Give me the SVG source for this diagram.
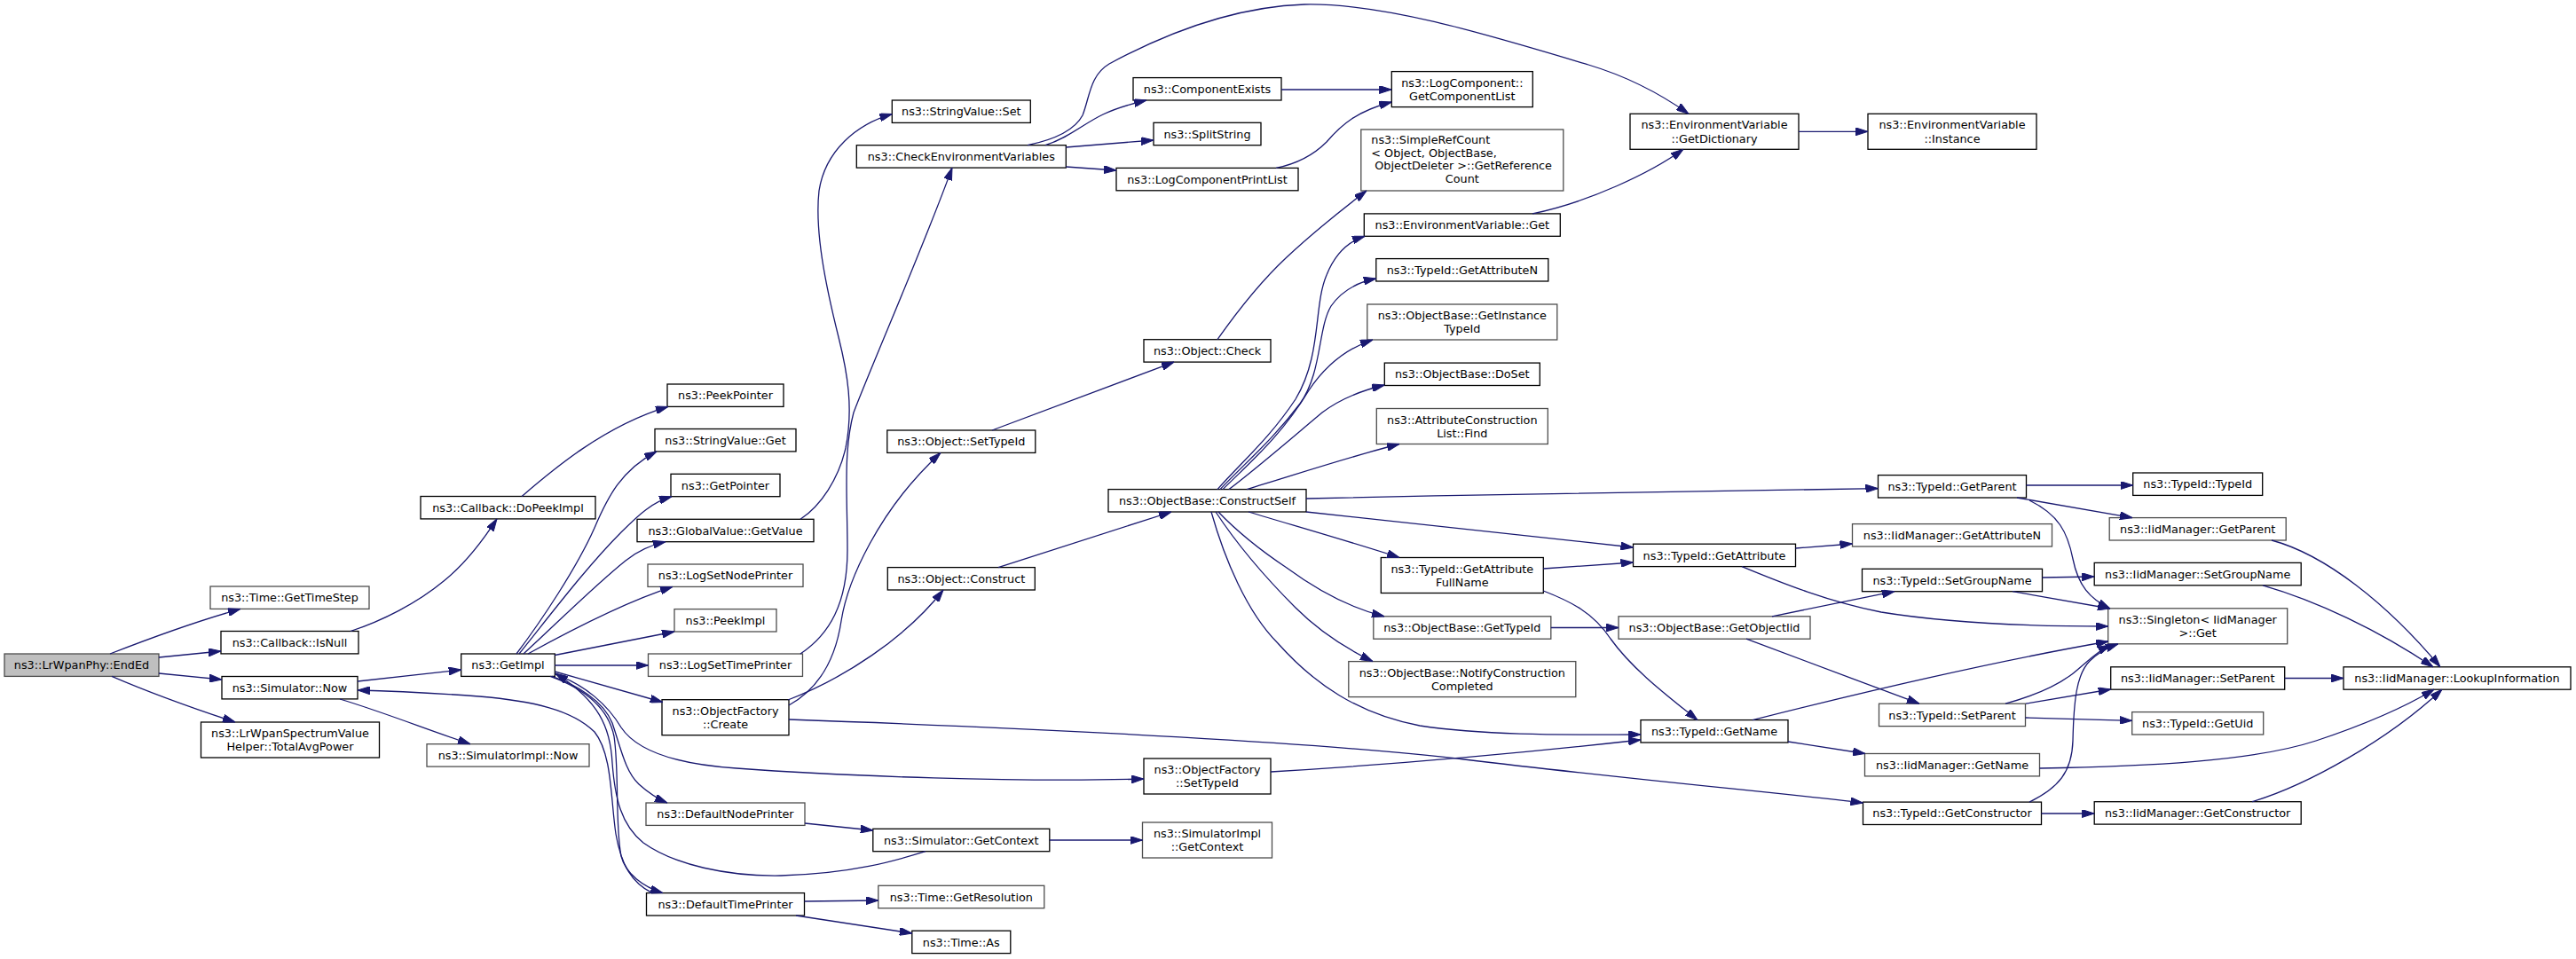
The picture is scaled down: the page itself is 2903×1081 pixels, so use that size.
<svg xmlns="http://www.w3.org/2000/svg" width="2903" height="1081" viewBox="0 0 2903 1081">
<defs>
<marker id="ah" viewBox="0 0 14 9" refX="14" refY="4.5" markerWidth="14" markerHeight="9" markerUnits="userSpaceOnUse" orient="auto"><path d="M0,0 L14,4.5 L0,9 z" fill="#191970" stroke="#191970" stroke-width="1"/></marker>
<style>
.e path{fill:none;stroke:#191970;stroke-width:1.3;marker-end:url(#ah)}
.n rect{fill:#fff;stroke:#000;stroke-width:1.3}
.n.g rect{stroke:#4d4d4d}
.n text{font-family:'DejaVu Sans',sans-serif;font-size:12.8px;fill:#000;text-anchor:middle}
.n.root rect{fill:#bfbfbf;stroke:#4d4d4d}
.n text.l{text-anchor:start}
</style>
</defs>
<rect width="2903" height="1081" fill="#fff"/>
<g id="nodes">
<g id="n_EndEd" class="n root"><rect x="5" y="737" width="174" height="25.4"/><text x="92" y="754.3">ns3::LrWpanPhy::EndEd</text></g>
<g id="n_GetTimeStep" class="n g"><rect x="237" y="661" width="179" height="25.4"/><text x="326.5" y="678.3">ns3::Time::GetTimeStep</text></g>
<g id="n_IsNull" class="n"><rect x="249" y="711.5" width="155" height="25.4"/><text x="326.5" y="728.8">ns3::Callback::IsNull</text></g>
<g id="n_SimNow" class="n"><rect x="250" y="762.5" width="153" height="25.4"/><text x="326.5" y="779.8">ns3::Simulator::Now</text></g>
<g id="n_TotalAvg" class="n"><rect x="226.5" y="814" width="201" height="40"/><text x="327" y="831">ns3::LrWpanSpectrumValue</text><text x="327" y="846.2">Helper::TotalAvgPower</text></g>
<g id="n_DoPeekImpl" class="n"><rect x="474" y="559.5" width="197" height="25.4"/><text x="572.5" y="576.8">ns3::Callback::DoPeekImpl</text></g>
<g id="n_GetImpl" class="n"><rect x="519.7" y="737" width="105.6" height="25.4"/><text x="572.5" y="754.3">ns3::GetImpl</text></g>
<g id="n_SimImplNow" class="n g"><rect x="481" y="838.7" width="183" height="25.4"/><text x="572.5" y="856">ns3::SimulatorImpl::Now</text></g>
<g id="n_PeekPointer" class="n"><rect x="752" y="433" width="131" height="25.4"/><text x="817.5" y="450.3">ns3::PeekPointer</text></g>
<g id="n_StrGet" class="n"><rect x="738" y="483.5" width="159" height="25.4"/><text x="817.5" y="500.8">ns3::StringValue::Get</text></g>
<g id="n_GetPointer" class="n"><rect x="756" y="534.3" width="123" height="25.4"/><text x="817.5" y="551.6">ns3::GetPointer</text></g>
<g id="n_GlobalGetValue" class="n"><rect x="718" y="585.3" width="199" height="25.4"/><text x="817.5" y="602.6">ns3::GlobalValue::GetValue</text></g>
<g id="n_LogSetNodePrinter" class="n g"><rect x="730" y="636" width="175" height="25.4"/><text x="817.5" y="653.3">ns3::LogSetNodePrinter</text></g>
<g id="n_PeekImpl" class="n g"><rect x="760" y="686.6" width="115" height="25.4"/><text x="817.5" y="703.9">ns3::PeekImpl</text></g>
<g id="n_LogSetTimePrinter" class="n g"><rect x="730.5" y="737" width="174" height="25.4"/><text x="817.5" y="754.3">ns3::LogSetTimePrinter</text></g>
<g id="n_OFCreate" class="n"><rect x="746" y="788.7" width="143" height="40"/><text x="817.5" y="805.7">ns3::ObjectFactory</text><text x="817.5" y="820.9">::Create</text></g>
<g id="n_DefaultNodePrinter" class="n g"><rect x="728" y="905" width="179" height="25.4"/><text x="817.5" y="922.3">ns3::DefaultNodePrinter</text></g>
<g id="n_DefaultTimePrinter" class="n"><rect x="728.5" y="1006.6" width="178" height="25.4"/><text x="817.5" y="1023.9">ns3::DefaultTimePrinter</text></g>
<g id="n_StrSet" class="n"><rect x="1005.3" y="113" width="156" height="25.4"/><text x="1083.3" y="130.3">ns3::StringValue::Set</text></g>
<g id="n_CheckEnv" class="n"><rect x="965.3" y="163.7" width="236" height="25.4"/><text x="1083.3" y="181">ns3::CheckEnvironmentVariables</text></g>
<g id="n_ObjSetTypeId" class="n"><rect x="999.8" y="485" width="167" height="25.4"/><text x="1083.3" y="502.3">ns3::Object::SetTypeId</text></g>
<g id="n_ObjConstruct" class="n"><rect x="1000.3" y="639.6" width="166" height="25.4"/><text x="1083.3" y="656.9">ns3::Object::Construct</text></g>
<g id="n_SimGetContext" class="n"><rect x="983.8" y="934.3" width="199" height="25.4"/><text x="1083.3" y="951.6">ns3::Simulator::GetContext</text></g>
<g id="n_TimeGetRes" class="n g"><rect x="989.8" y="998.3" width="187" height="25.4"/><text x="1083.3" y="1015.6">ns3::Time::GetResolution</text></g>
<g id="n_TimeAs" class="n"><rect x="1027.8" y="1049.2" width="111" height="25.4"/><text x="1083.3" y="1066.5">ns3::Time::As</text></g>
<g id="n_ComponentExists" class="n"><rect x="1277" y="87.6" width="167" height="25.4"/><text x="1360.5" y="104.9">ns3::ComponentExists</text></g>
<g id="n_SplitString" class="n"><rect x="1300" y="138.3" width="121" height="25.4"/><text x="1360.5" y="155.6">ns3::SplitString</text></g>
<g id="n_LogCompPrintList" class="n"><rect x="1258" y="189.4" width="205" height="25.4"/><text x="1360.5" y="206.7">ns3::LogComponentPrintList</text></g>
<g id="n_ObjCheck" class="n"><rect x="1289" y="382.7" width="143" height="25.4"/><text x="1360.5" y="400">ns3::Object::Check</text></g>
<g id="n_ConstructSelf" class="n"><rect x="1249" y="551.6" width="223" height="25.4"/><text x="1360.5" y="568.9">ns3::ObjectBase::ConstructSelf</text></g>
<g id="n_OFSetTypeId" class="n"><rect x="1289" y="855" width="143" height="40"/><text x="1360.5" y="872">ns3::ObjectFactory</text><text x="1360.5" y="887.2">::SetTypeId</text></g>
<g id="n_SimImplGetContext" class="n g"><rect x="1287.5" y="927" width="146" height="40"/><text x="1360.5" y="944">ns3::SimulatorImpl</text><text x="1360.5" y="959.2">::GetContext</text></g>
<g id="n_GetCompList" class="n"><rect x="1568.3" y="80.6" width="159" height="40"/><text x="1647.8" y="97.6">ns3::LogComponent::</text><text x="1647.8" y="112.8">GetComponentList</text></g>
<g id="n_SimpleRefCount" class="n g"><rect x="1533.8" y="146" width="228" height="69"/><text class="l" x="1545.3" y="162.1">ns3::SimpleRefCount</text><text class="l" x="1545.3" y="177">&lt; Object, ObjectBase,</text><text class="l" x="1549.3" y="191.3">ObjectDeleter &gt;::GetReference</text><text x="1647.8" y="206.2">Count</text></g>
<g id="n_EnvGet" class="n"><rect x="1537.3" y="240.9" width="221" height="25.4"/><text x="1647.8" y="258.2">ns3::EnvironmentVariable::Get</text></g>
<g id="n_GetAttrN" class="n"><rect x="1550.8" y="291.6" width="194" height="25.4"/><text x="1647.8" y="308.9">ns3::TypeId::GetAttributeN</text></g>
<g id="n_GetInstTypeId" class="n g"><rect x="1540.8" y="343" width="214" height="40"/><text x="1647.8" y="360">ns3::ObjectBase::GetInstance</text><text x="1647.8" y="375.2">TypeId</text></g>
<g id="n_DoSet" class="n"><rect x="1560.3" y="409.1" width="175" height="25.4"/><text x="1647.8" y="426.4">ns3::ObjectBase::DoSet</text></g>
<g id="n_ACLFind" class="n g"><rect x="1551.3" y="460.5" width="193" height="40"/><text x="1647.8" y="477.5">ns3::AttributeConstruction</text><text x="1647.8" y="492.7">List::Find</text></g>
<g id="n_GetAttrFullName" class="n"><rect x="1556.3" y="628.5" width="183" height="40"/><text x="1647.8" y="645.5">ns3::TypeId::GetAttribute</text><text x="1647.8" y="660.7">FullName</text></g>
<g id="n_OBGetTypeId" class="n g"><rect x="1547.8" y="694.8" width="200" height="25.4"/><text x="1647.8" y="712.1">ns3::ObjectBase::GetTypeId</text></g>
<g id="n_NotifyCC" class="n g"><rect x="1519.8" y="745.6" width="256" height="40"/><text x="1647.8" y="762.6">ns3::ObjectBase::NotifyConstruction</text><text x="1647.8" y="777.8">Completed</text></g>
<g id="n_GetDict" class="n"><rect x="1837" y="128.3" width="190" height="40"/><text x="1932" y="145.3">ns3::EnvironmentVariable</text><text x="1932" y="160.5">::GetDictionary</text></g>
<g id="n_TIGetAttr" class="n"><rect x="1840.5" y="613.2" width="183" height="25.4"/><text x="1932" y="630.5">ns3::TypeId::GetAttribute</text></g>
<g id="n_GetObjectIid" class="n g"><rect x="1824" y="694.8" width="216" height="25.4"/><text x="1932" y="712.1">ns3::ObjectBase::GetObjectIid</text></g>
<g id="n_TIGetName" class="n"><rect x="1849" y="811.6" width="166" height="25.4"/><text x="1932" y="828.9">ns3::TypeId::GetName</text></g>
<g id="n_EnvInstance" class="n"><rect x="2105" y="128.3" width="190" height="40"/><text x="2200" y="145.3">ns3::EnvironmentVariable</text><text x="2200" y="160.5">::Instance</text></g>
<g id="n_TIGetParent" class="n"><rect x="2116.5" y="535.6" width="167" height="25.4"/><text x="2200" y="552.9">ns3::TypeId::GetParent</text></g>
<g id="n_IMGetAttrN" class="n g"><rect x="2087.5" y="590.6" width="225" height="25.4"/><text x="2200" y="607.9">ns3::IidManager::GetAttributeN</text></g>
<g id="n_TISetGroupName" class="n"><rect x="2098.5" y="641.3" width="203" height="25.4"/><text x="2200" y="658.6">ns3::TypeId::SetGroupName</text></g>
<g id="n_TISetParent" class="n g"><rect x="2117.5" y="793.2" width="165" height="25.4"/><text x="2200" y="810.5">ns3::TypeId::SetParent</text></g>
<g id="n_IMGetName" class="n g"><rect x="2101.5" y="849.5" width="197" height="25.4"/><text x="2200" y="866.8">ns3::IidManager::GetName</text></g>
<g id="n_TIGetConstructor" class="n"><rect x="2099.5" y="904.1" width="201" height="25.4"/><text x="2200" y="921.4">ns3::TypeId::GetConstructor</text></g>
<g id="n_TITypeId" class="n"><rect x="2403.7" y="533" width="146" height="25.4"/><text x="2476.7" y="550.3">ns3::TypeId::TypeId</text></g>
<g id="n_IMGetParent" class="n g"><rect x="2377.2" y="583.6" width="199" height="25.4"/><text x="2476.7" y="600.9">ns3::IidManager::GetParent</text></g>
<g id="n_IMSetGroupName" class="n"><rect x="2360.2" y="634.4" width="233" height="25.4"/><text x="2476.7" y="651.7">ns3::IidManager::SetGroupName</text></g>
<g id="n_Singleton" class="n g"><rect x="2375.7" y="685.8" width="202" height="40"/><text x="2476.7" y="702.8">ns3::Singleton&lt; IidManager</text><text x="2476.7" y="718">&gt;::Get</text></g>
<g id="n_IMSetParent" class="n"><rect x="2378.7" y="751.8" width="196" height="25.4"/><text x="2476.7" y="769.1">ns3::IidManager::SetParent</text></g>
<g id="n_TIGetUid" class="n g"><rect x="2402.7" y="802.6" width="148" height="25.4"/><text x="2476.7" y="819.9">ns3::TypeId::GetUid</text></g>
<g id="n_IMGetConstructor" class="n"><rect x="2360.2" y="903.7" width="233" height="25.4"/><text x="2476.7" y="921">ns3::IidManager::GetConstructor</text></g>
<g id="n_LookupInfo" class="n"><rect x="2641" y="751.8" width="256" height="25.4"/><text x="2769" y="769.1">ns3::IidManager::LookupInformation</text></g>
</g>
<g id="connectors" class="e">
<path d="M124,737 C165,721 215,702 271,686.4"/>
<path d="M179,741 L249,734"/>
<path d="M179,759 L250,766"/>
<path d="M126,762.4 C160,777 210,796 265,814"/>
<path d="M395,711.5 C430,700 470,680 500,655 C525,635 545,608 560,584.9"/>
<path d="M588,559.5 C620,532 680,480 753,458.4"/>
<path d="M403,768 L519.7,755"/>
<path d="M383,788 C430,802 480,822 530,838.7"/>
<path d="M735,1006.6 C712,995 700,975 694,940 C688,900 690,850 670,825 C645,800 600,790 540,785 C500,782 450,779 403,778"/>
<path d="M582,737 C610,700 650,640 670,595 C685,560 700,530 740,508.9"/>
<path d="M585,737 C615,700 660,640 700,600 C720,580 735,566 757,559.7"/>
<path d="M590,737 C625,705 670,660 705,632 C720,620 735,614 750,610.7"/>
<path d="M595,737 C635,715 700,680 758,661.4"/>
<path d="M625.3,738.5 L760,712"/>
<path d="M625.3,750 L730.5,750"/>
<path d="M625.3,757 L746.7,791.5"/>
<path d="M622,762.4 C650,772 680,790 690,815 C700,845 705,870 720,884 C730,893 740,900 752,905"/>
<path d="M620,762.4 C655,775 685,795 692,830 C698,870 693,930 700,965 C705,985 725,1000 747,1006.6"/>
<path d="M1043,959.7 C1010,970 960,985 880,987 C820,988 760,975 725,950 C700,930 693,900 690,860 C688,820 675,790 626,759"/>
<path d="M625.3,760 C660,772 685,795 700,820 C720,850 770,862 830,866 C950,875 1150,882 1289,878"/>
<path d="M907,928 L983.8,936"/>
<path d="M1182.8,947 L1287.5,947"/>
<path d="M906.5,1016 L989.8,1015"/>
<path d="M897,1032 L1027.8,1052"/>
<path d="M889,811 C1200,822 1500,838 1650,856 C1850,880 2000,893 2099.5,905"/>
<path d="M888,789 C950,765 1020,720 1063,665"/>
<path d="M889,795 C925,775 942,740 948,700 C955,655 990,575 1060,510.4"/>
<path d="M902,737 C935,715 955,680 955,620 C955,560 950,510 962,465 C985,405 1040,280 1073,189.1"/>
<path d="M902,585.3 C925,570 945,540 953,505 C962,460 955,420 945,380 C930,320 918,260 923,215 C930,170 965,140 1005.3,128.6"/>
<path d="M1158,163.7 C1190,157 1212,145 1220,130 C1228,110 1228,85 1250,72 C1300,45 1380,8 1470,5 C1560,3 1680,40 1790,73 C1840,88 1880,112 1903,128.3"/>
<path d="M1178,163.7 C1205,155 1220,140 1243,129 C1260,121 1275,117 1292,113"/>
<path d="M1201.3,166 L1300,158"/>
<path d="M1201.3,188 L1258,192"/>
<path d="M1444,101 L1568.3,101"/>
<path d="M1438,189.4 C1460,185 1480,175 1495,160 C1512,140 1530,125 1568.3,115"/>
<path d="M2027,148.3 L2105,148.3"/>
<path d="M1727,240.9 C1790,228 1860,195 1897,168.3"/>
<path d="M1372,382.7 C1395,350 1420,318 1450,290 C1480,262 1510,238 1540,215"/>
<path d="M1118,485 L1323,408.1"/>
<path d="M1125,639.6 L1320,577"/>
<path d="M1372,551.6 C1400,520 1430,495 1460,450 C1490,400 1480,345 1495,310 C1505,285 1520,272 1538,266.3"/>
<path d="M1375,551.6 C1405,520 1435,495 1465,455 C1490,420 1485,370 1500,345 C1512,328 1530,318 1550.8,314"/>
<path d="M1378,551.6 C1410,520 1445,490 1475,440 C1495,410 1520,392 1547,383"/>
<path d="M1385,551.6 C1420,525 1460,490 1490,465 C1510,450 1535,440 1560.3,434"/>
<path d="M1405,551.6 C1460,535 1520,515 1577,500.5"/>
<path d="M1472,562 C1700,557 1950,552 2116.5,550.6"/>
<path d="M1472,577 L1840.5,617"/>
<path d="M1407,577 C1460,593 1520,610 1577,628.5"/>
<path d="M1373,577 C1395,600 1420,620 1450,640 C1480,662 1520,685 1560,694.8"/>
<path d="M1370,577 C1395,615 1430,655 1460,685 C1485,710 1515,730 1547,745.6"/>
<path d="M1365,577 C1380,630 1405,690 1440,725 C1480,770 1530,805 1600,818 C1680,830 1780,828 1849,828"/>
<path d="M1739.3,641 L1840.5,634"/>
<path d="M1739.3,666 C1770,678 1795,690 1815,720 C1840,755 1880,785 1913,811.6"/>
<path d="M1747.8,707.5 L1824,707.5"/>
<path d="M1432,870 C1600,860 1750,845 1849,834"/>
<path d="M2023.5,618 L2087.5,613"/>
<path d="M1963,638.6 C2010,658 2060,678 2120,690 C2200,703 2300,706 2375.7,706"/>
<path d="M1997,694.8 L2135,666.7"/>
<path d="M1968,720.2 L2163,793.2"/>
<path d="M1975,811.6 C2100,780 2250,745 2376,723"/>
<path d="M2015,836 L2102,849.5"/>
<path d="M2283.5,547 L2403.7,547"/>
<path d="M2273,561 L2403,583.6"/>
<path d="M2287,564 C2320,580 2330,600 2336,630 C2342,660 2355,675 2378,686"/>
<path d="M2301.5,651 L2360.2,650"/>
<path d="M2268,666.7 L2378,686"/>
<path d="M2260,793.2 C2290,785 2315,775 2335,760 C2350,748 2362,735 2378,727"/>
<path d="M2283,793.2 L2378.7,777"/>
<path d="M2282.5,809 L2402.7,812.3"/>
<path d="M2298.5,866 C2420,864 2540,858 2610,835 C2670,815 2710,797 2743,777.2"/>
<path d="M2287,904.1 C2320,888 2335,870 2336,835 C2337,790 2340,760 2355,745 C2365,735 2375,730 2387,725.8"/>
<path d="M2300.5,917 L2360.2,917"/>
<path d="M2560,609 C2620,625 2690,680 2750,751.8"/>
<path d="M2550,659.8 C2610,677 2680,710 2742,751.8"/>
<path d="M2574.7,764.5 L2641,764.5"/>
<path d="M2538,903.7 C2600,885 2690,835 2752,777.2"/>
</g>
</svg>
